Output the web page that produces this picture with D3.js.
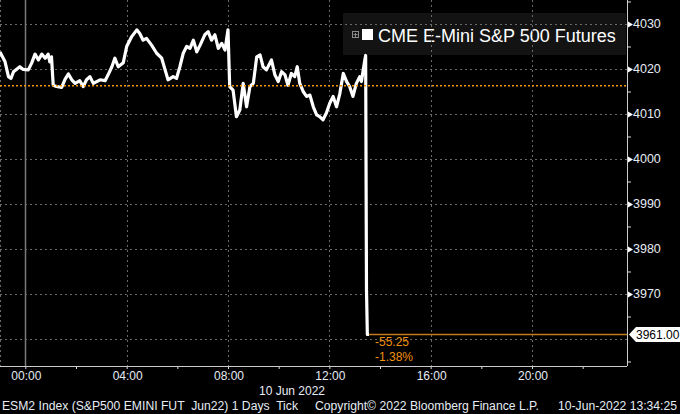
<!DOCTYPE html>
<html><head><meta charset="utf-8">
<script src="https://cdn.jsdelivr.net/npm/d3@7"></script>
<style>html,body{margin:0;padding:0;background:#000;overflow:hidden}</style>
</head><body><svg id="c" width="680" height="414"></svg>
<script>
// ---- data (time = minutes from midnight, London time, 10 Jun 2022) ----
const minutes = [-60,-48,-40,-34,-28,-13,-5,7,15,23,31,39,47,54,58,62,66,74,86,94,102,110,118,129,137,145,153,161,169,177,189,196,205,212,220,232,240,252,264,271,279,287,299,311,323,331,338,350,358,366,374,382,390,398,406,414,425,433,441,449,457,465,473,480,484,492,500,508,516,524,532,540,548,556,563,571,583,591,599,607,615,622,630,638,644,650,658,666,674,682,690,697,705,713,721,729,737,745,753,761,768,776,784,792,796,804,806,808,810,814];
const prices = [4023.8,4021.6,4018.3,4017.9,4019.4,4020.5,4019.9,4019.8,4021.3,4023.3,4022.0,4023.3,4022.4,4023.3,4021.6,4022.7,4016.4,4016.1,4015.9,4017.7,4018.9,4017.6,4016.8,4017.4,4016.1,4017.6,4018.3,4016.8,4017.2,4017.6,4017.4,4018.7,4020.5,4022.4,4020.5,4021.4,4025.0,4027.2,4028.7,4027.9,4026.4,4026.8,4025.3,4023.5,4022.4,4019.8,4017.6,4018.3,4017.9,4020.5,4023.5,4025.0,4024.6,4026.4,4023.8,4025.3,4027.6,4028.3,4026.4,4027.6,4024.6,4025.7,4024.2,4028.7,4016.1,4015.3,4009.4,4010.9,4016.8,4011.6,4016.1,4016.8,4022.7,4023.1,4020.5,4019.8,4022.0,4018.7,4017.2,4019.4,4018.7,4016.4,4019.0,4018.3,4020.5,4016.8,4015.0,4013.9,4014.2,4011.6,4009.8,4009.4,4008.7,4010.2,4012.4,4013.9,4011.6,4014.6,4019.0,4017.2,4016.1,4013.9,4016.8,4018.3,4017.2,4022.0,4023.0,3971.0,3961.0,3961.0];
const xTickValues = [0,240,480,720,960,1200];
const xTickLabels = ["00:00","04:00","08:00","12:00","16:00","20:00"];
const xMinorTicks = [120,360,600,840,1080,1320];
const yTickValues = [3970,3980,3990,4000,4010,4020,4030];
const yGridValues = [3960,3970,3980,3990,4000,4010,4020,4030];
const yMinorTicks = [3955,3965,3975,3985,3995,4005,4015,4025,4035];
const seriesName = "CME E-Mini S&P 500 Futures";
const dateLabel = "10 Jun 2022";
const prevClose = 4016.25;
const lastPrice = 3961.00;
const lastLabel = "3961.00";
const netChange = "-55.25";
const pctChange = "-1.38%";
const footerLeft = "ESM2 Index (S&P500 EMINI FUT  Jun22) 1 Days  Tick";
const footerMid = "Copyright\u00A9 2022 Bloomberg Finance L.P.";
const footerRight = "10-Jun-2022 13:34:25";

// ---- layout ----
const W = 680, H = 414;
const plotL = 0, plotR = 627, plotT = 0, plotB = 366;
const FONT = "'Liberation Sans', Arial, sans-serif";

const svg = d3.select("#c");
svg.append("rect").attr("width", W).attr("height", H).attr("fill", "#000");

const x = d3.scaleLinear().domain([-60, 1425]).range([plotL, plotR]);
const y = d3.scaleLinear().domain([3954, 4035.33]).range([plotB, plotT]);

// legend box (behind grid)
const lg = svg.append("g");
lg.append("rect").attr("x", 343).attr("y", 13).attr("width", 283).attr("height", 42).attr("fill", "#131313");
lg.append("rect").attr("x", 352.5).attr("y", 31.5).attr("width", 6).attr("height", 6).attr("fill", "none").attr("stroke", "#8a8a8a");
lg.append("path").attr("d", "M355.5,33 V37 M353.5,34.5 H357.5").attr("stroke", "#8a8a8a").attr("stroke-width", 1);
lg.append("rect").attr("x", 362).attr("y", 29).attr("width", 11).attr("height", 11).attr("fill", "#fff");
lg.append("text").attr("x", 378).attr("y", 42).attr("fill", "#fff")
  .style("font-family", FONT).style("font-size", "18px").text(seriesName);

// grid
const grid = svg.append("g");
grid.selectAll("line.h").data(yGridValues).join("line")
  .attr("x1", plotL).attr("x2", plotR)
  .attr("y1", d => Math.round(y(d)) + 0.5).attr("y2", d => Math.round(y(d)) + 0.5)
  .attr("stroke", "#6a6a6a").attr("stroke-dasharray", "2,3");
grid.selectAll("line.v").data([-60].concat(xTickValues.slice(1))).join("line")
  .attr("x1", d => Math.round(x(d)) + 0.5).attr("x2", d => Math.round(x(d)) + 0.5)
  .attr("y1", plotT).attr("y2", plotB)
  .attr("stroke", "#6a6a6a").attr("stroke-dasharray", "2,3");
grid.append("line")
  .attr("x1", Math.round(x(0)) + 0.5).attr("x2", Math.round(x(0)) + 0.5)
  .attr("y1", plotT).attr("y2", plotB).attr("stroke", "#7a7a7a").attr("stroke-width", 1.5);

// price line
const data = minutes.map((m, i) => ({m, p: prices[i]}));
svg.append("path").datum(data)
  .attr("d", d3.line().x(d => x(d.m)).y(d => y(d.p)))
  .attr("fill", "none").attr("stroke", "#fff").attr("stroke-width", 3.2)
  .attr("stroke-linejoin", "round").attr("stroke-linecap", "butt");

// previous close dotted line
svg.append("line").attr("x1", plotL).attr("x2", plotR)
  .attr("y1", y(prevClose)).attr("y2", y(prevClose))
  .attr("stroke", "#f0960f").attr("stroke-width", 1.5).attr("stroke-dasharray", "2,2");

// last price line
const lastM = minutes[minutes.length - 1];
svg.append("line").attr("x1", x(lastM)).attr("x2", plotR)
  .attr("y1", y(lastPrice)).attr("y2", y(lastPrice))
  .attr("stroke", "#c4791a").attr("stroke-width", 1.5);

// change annotation
svg.append("text").attr("x", 375).attr("y", 346).attr("fill", "#f0900f")
  .style("font-family", FONT).style("font-size", "12px").text(netChange);
svg.append("text").attr("x", 375).attr("y", 361).attr("fill", "#f0900f")
  .style("font-family", FONT).style("font-size", "12px").text(pctChange);

// bottom axis
const xAxis = d3.axisBottom(x).tickValues(xTickValues.concat(xMinorTicks))
  .tickSize(3).tickFormat("");
const gx = svg.append("g").attr("transform", `translate(0,${plotB})`).call(xAxis);
gx.select(".domain").remove();
gx.selectAll(".tick line").attr("stroke", "#ddd");
svg.append("line").attr("x1", plotL).attr("x2", plotR).attr("y1", plotB + 0.5).attr("y2", plotB + 0.5)
  .attr("stroke", "#ccc");
svg.selectAll("text.xl").data(xTickValues).join("text")
  .attr("x", d => x(d) + 1).attr("y", 380).attr("text-anchor", "middle")
  .attr("fill", "#e6ecf5").style("font-family", FONT).style("font-size", "12px")
  .text((d, i) => xTickLabels[i]);
svg.append("text").attr("x", 292).attr("y", 395).attr("text-anchor", "middle")
  .attr("fill", "#e6ecf5").style("font-family", FONT).style("font-size", "12px").text(dateLabel);

// right axis
svg.append("line").attr("x1", plotR + 0.5).attr("x2", plotR + 0.5).attr("y1", plotT).attr("y2", plotB)
  .attr("stroke", "#ccc");
const yMinor = d3.axisRight(y).tickValues(yMinorTicks).tickSize(4).tickFormat("");
const gyMinor = svg.append("g").attr("transform", `translate(${plotR},0)`).call(yMinor);
gyMinor.select(".domain").remove();
gyMinor.selectAll(".tick line").attr("stroke", "#ddd");
const yAxis = d3.axisRight(y).tickValues(yTickValues).tickSize(0).tickPadding(6).tickFormat(d3.format("d"));
const gy = svg.append("g").attr("transform", `translate(${plotR},0)`).call(yAxis);
gy.select(".domain").remove();
gy.selectAll(".tick text").attr("fill", "#e6ecf5").attr("x", 6)
  .style("font-family", FONT).style("font-size", "12.5px");
gy.selectAll(".tick").append("path").attr("d", "M1,-3 L6,0 L1,3 Z").attr("fill", "#fff");

// last price tag
const ly = y(lastPrice);
svg.append("path").attr("d", `M629,${ly} L636,${ly - 7.5} H680 V${ly + 7.5} H636 Z`).attr("fill", "#fff");
svg.append("text").attr("x", 636).attr("y", ly + 4.5).attr("fill", "#000")
  .style("font-family", FONT).style("font-size", "12px").text(lastLabel);

// footer
const ft = svg.append("g").style("font-family", FONT).style("font-size", "12px").attr("fill", "#e6ecf5");
ft.append("text").attr("x", 2).attr("y", 410).style("white-space", "pre")
  .attr("textLength", 296).attr("lengthAdjust", "spacingAndGlyphs").text(footerLeft);
ft.append("text").attr("x", 315).attr("y", 410)
  .attr("textLength", 224).attr("lengthAdjust", "spacingAndGlyphs").text(footerMid);
ft.append("text").attr("x", 558).attr("y", 410)
  .attr("textLength", 119).attr("lengthAdjust", "spacingAndGlyphs").text(footerRight);
</script></body></html>
